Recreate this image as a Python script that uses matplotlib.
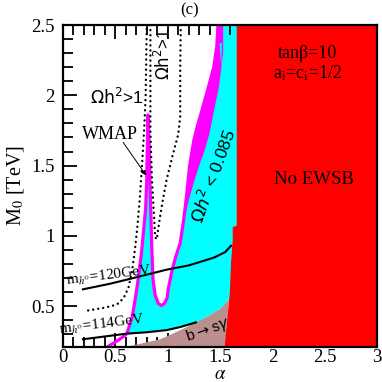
import numpy as np
import matplotlib
matplotlib.use("Agg")
import matplotlib.pyplot as plt
from matplotlib.ticker import MultipleLocator

plt.rcParams["font.family"] = ["Liberation Serif", "DejaVu Serif"]
plt.rcParams["mathtext.fontset"] = "stix"

# WMAP (magenta) curve: tail below the m_h=114 line, then main part
wmap_tail_a = [0.40, 0.50, 0.58, 0.61]
wmap_tail_m = [0.20, 0.245, 0.285, 0.305]
wmap_a = [0.61, 0.66, 0.69, 0.72, 0.75, 0.77, 0.79, 0.80, 0.805, 0.812,
          0.825, 0.83, 0.84, 0.848, 0.86, 0.88, 0.91, 0.94, 0.97, 0.995, 1.005,
          1.04, 1.08, 1.12, 1.15, 1.18, 1.21, 1.25, 1.28, 1.33, 1.39, 1.44, 1.47, 1.48]
wmap_m = [0.305, 0.42, 0.55, 0.70, 0.88, 1.04, 1.20, 1.40, 1.60, 1.86,
          1.60, 1.40, 1.15, 0.92, 0.69, 0.58, 0.52, 0.505, 0.52, 0.56, 0.62,
          0.75, 0.86, 0.95, 1.10, 1.28, 1.50, 1.68, 1.77, 1.90, 2.06, 2.20, 2.35, 2.50]
# outer (cyan side) edge of the thick WMAP band, top to bottom
band_a = [1.53, 1.53, 1.49, 1.44, 1.40, 1.35, 1.31, 1.25, 1.20, 1.16]
band_m = [2.50, 2.30, 2.06, 1.88, 1.73, 1.60, 1.52, 1.38, 1.25, 1.12]

# no EWSB boundary
red_a = [1.665, 1.665, 1.627, 1.627, 1.61, 1.60, 1.575, 1.55]
red_m = [2.50, 1.07, 1.06, 0.97, 0.80, 0.60, 0.40, 0.21]

# b -> s gamma excluded region
bsg_a = [0.60, 0.75, 0.93, 1.02, 1.15, 1.27, 1.40, 1.50, 1.585, 1.58, 1.565, 1.55]
bsg_m = [0.21, 0.235, 0.265, 0.295, 0.34, 0.385, 0.435, 0.48, 0.55, 0.45, 0.30, 0.21]

# Higgs mass contours
mh114_a = [0.19, 0.40, 0.61, 0.80, 0.99, 1.12, 1.27]
mh114_m = [0.265, 0.285, 0.305, 0.315, 0.33, 0.352, 0.385]
mh120_a = [0.19, 0.45, 0.67, 0.99, 1.20, 1.44, 1.55, 1.605]
mh120_m = [0.62, 0.66, 0.70, 0.76, 0.79, 0.845, 0.885, 0.93]

# Omega h^2 = 1 contours (dotted)
dot1_a = [0.24, 0.32, 0.40, 0.48, 0.53, 0.58, 0.625, 0.66, 0.69, 0.715, 0.735, 0.755, 0.775, 0.79, 0.80]
dot1_m = [0.47, 0.48, 0.49, 0.505, 0.52, 0.56, 0.63, 0.75, 0.92, 1.10, 1.28, 1.50, 1.75, 2.00, 2.50]
dot2_a = [0.835, 0.835, 0.835, 0.85, 0.865, 0.88, 0.89, 0.90, 0.93, 0.96, 0.99, 1.05, 1.10, 1.12, 1.12, 1.125]
dot2_m = [2.50, 2.10, 1.75, 1.40, 1.20, 1.00, 0.975, 1.00, 1.15, 1.28, 1.40, 1.58, 1.72, 1.85, 2.20, 2.50]

fig = plt.figure(figsize=(3.82, 3.82), dpi=100)
ax = fig.add_axes([63/382, 35/382, 314/382, 322/382])

cyan = "#00ffff"
mag = "#ff00ff"
red = "#ff0000"
brown = "#bc8f8f"

# cyan region: WMAP curve -> (under the red area) -> b->s gamma top -> m_h=114 line
ba = [a for a in bsg_a[:9] if a >= 1.27][::-1]
bm = [m for a, m in zip(bsg_a[:9], bsg_m[:9]) if a >= 1.27][::-1]
la = [a for a in mh114_a if a >= 0.61][::-1]
lm = [m for a, m in zip(mh114_a, mh114_m) if a >= 0.61][::-1]
ax.fill(wmap_a + [1.8, 1.8] + ba + la, wmap_m + [2.5, 0.55] + bm + lm,
        color=cyan, lw=0, zorder=1)

ax.fill(bsg_a, bsg_m, color=brown, lw=0, zorder=2)

# thick WMAP band (upper right)
ax.fill(wmap_a[-10:] + band_a, wmap_m[-10:] + band_m, color=mag, lw=0, zorder=3)
ax.fill([1.495, 1.512, 1.518], [2.37, 2.20, 2.37], color=cyan, lw=0, zorder=3)
ax.plot(wmap_tail_a + wmap_a, wmap_tail_m + wmap_m, color=mag, lw=2.3, zorder=3,
        solid_joinstyle="round")

ax.fill(red_a + [3.0, 3.0], red_m + [0.21, 2.5], facecolor=red, edgecolor=red,
        lw=0.8, zorder=4)

ax.plot(mh114_a, mh114_m, color="black", lw=1.5, zorder=5)
ax.plot(mh120_a, mh120_m, color="black", lw=1.5, zorder=5)
ax.plot(dot1_a, dot1_m, color="black", lw=1.7, ls=(0, (0.05, 2.1)), dash_capstyle="round", zorder=5)
ax.plot(dot2_a, dot2_m, color="black", lw=1.7, ls=(0, (0.05, 2.1)), dash_capstyle="round", zorder=5)

ax.set_xlim(0, 3)
ax.set_ylim(0.21, 2.5)
ax.xaxis.set_major_locator(MultipleLocator(0.5))
ax.xaxis.set_minor_locator(MultipleLocator(0.1))
ax.yaxis.set_major_locator(MultipleLocator(0.5))
ax.yaxis.set_minor_locator(MultipleLocator(0.1))
ax.xaxis.set_major_formatter(plt.FuncFormatter(lambda v, p: "%g" % v))
ax.yaxis.set_major_formatter(plt.FuncFormatter(lambda v, p: "%g" % v))
ax.tick_params(which="both", direction="in", top=True, right=True, width=1.3,
               labelsize=13.5)
ax.tick_params(axis="x", pad=1.5)
ax.tick_params(axis="y", pad=6)
ax.tick_params(which="major", length=10)
ax.tick_params(which="minor", length=7)
for s in ax.spines.values():
    s.set_linewidth(1.6)
    s.set_zorder(10)

fig.text(220/382, 1 - 374.5/382, r"$\alpha$", ha="center", va="center", fontsize=13.5)
ax.set_ylabel(r"M$_0$ [TeV]", fontsize=14.5, labelpad=4)
fig.text(0.497, 0.972, "(c)", ha="center", va="center", fontsize=12)

ax.text(2.335, 2.30, "tanβ=10", ha="center", va="center", fontsize=13, zorder=6)
ax.text(2.34, 2.16, r"a$_\mathrm{i}$=c$_\mathrm{i}$=1/2", ha="center", va="center", fontsize=13, zorder=6)
ax.text(2.40, 1.40, "No EWSB", ha="center", va="center", fontsize=13.5, zorder=6)

ax.text(0.45, 1.72, "WMAP", ha="center", va="center", fontsize=13, zorder=6)
ax.annotate("", xy=(0.795, 1.43), xytext=(0.575, 1.665),
            arrowprops=dict(arrowstyle="-|>", color="black", lw=0.7,
                            mutation_scale=7, shrinkA=0, shrinkB=0), zorder=6)

sans = ["Liberation Sans", "DejaVu Sans"]
ax.text(0.515, 1.99, r"$\Omega\mathrm{h}^2$>1", family=sans, math_fontfamily="dejavusans",
        ha="center", va="center", fontsize=12.5, zorder=6)
ax.text(0.955, 2.29, r"$\Omega\mathrm{h}^2$>1", family=sans, math_fontfamily="dejavusans",
        ha="center", va="center", fontsize=12, rotation=90, zorder=6)
ax.text(1.44, 1.43, r"$\Omega h^2$ < 0.085", family=sans, math_fontfamily="dejavusans",
        ha="center", va="center", fontsize=12.5, rotation=70, zorder=6)

ax.text(0.44, 0.72, r"m$_{h^0}$=120GeV", ha="center", va="center", fontsize=11,
        rotation=7, zorder=6)
ax.text(0.37, 0.37, r"m$_{h^0}$=114GeV", ha="center", va="center", fontsize=11,
        rotation=7, zorder=6)
ax.text(1.385, 0.33, r"b$\rightarrow$s$\gamma$", family=sans, math_fontfamily="dejavusans",
        ha="center", va="center", fontsize=11, rotation=19, zorder=6)

fig.savefig("out.png", dpi=100)
